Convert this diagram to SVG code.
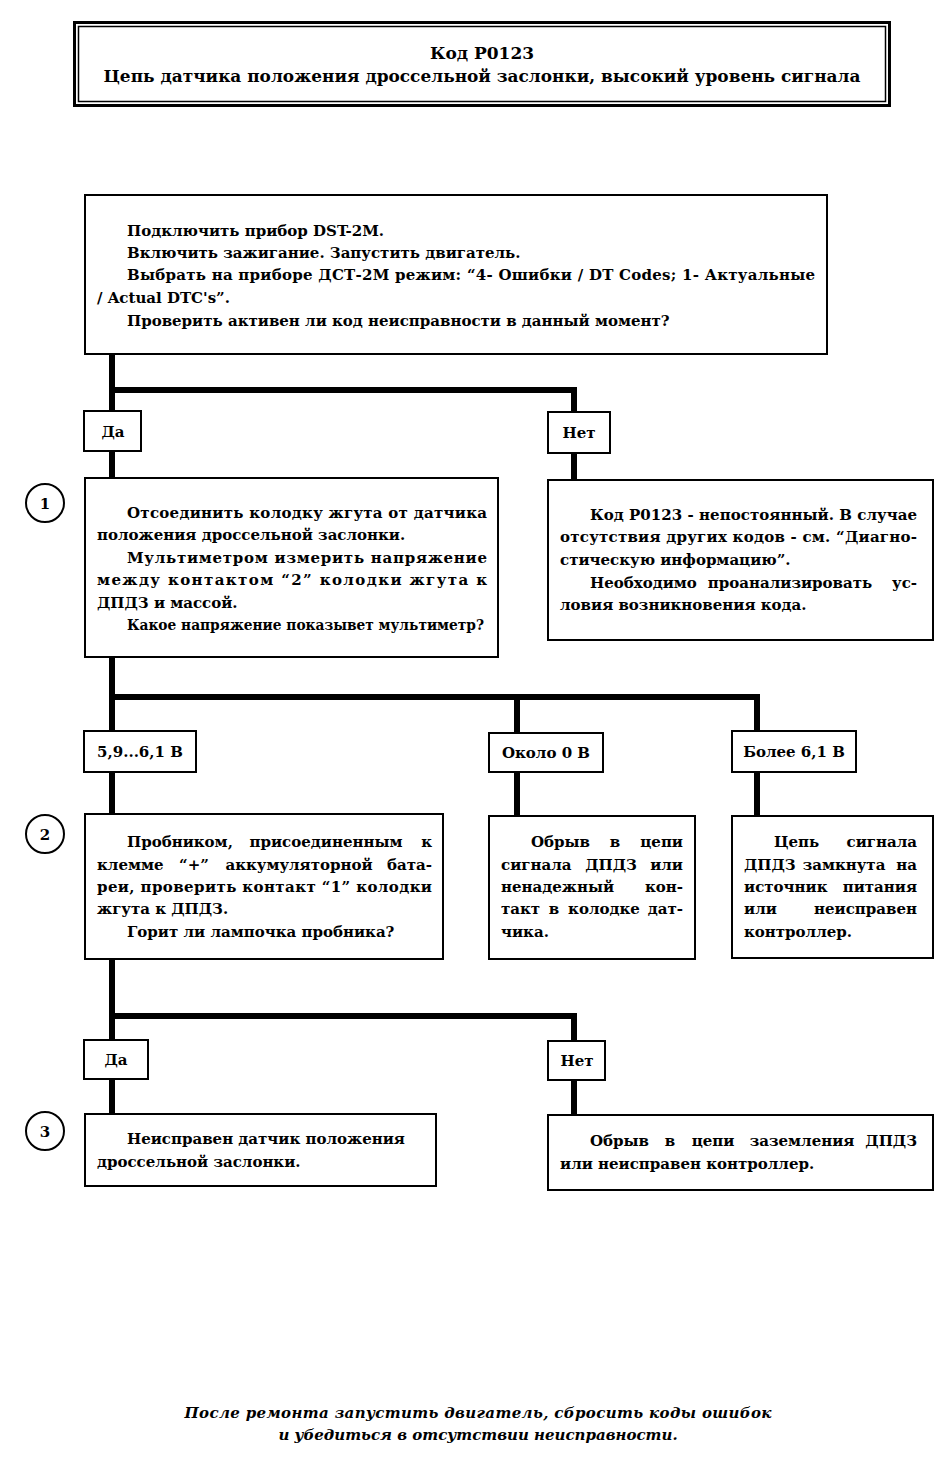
<svg xmlns="http://www.w3.org/2000/svg" width="951" height="1460" viewBox="0 0 951 1460">
<style>
.bx{fill:#fff;stroke:#000;stroke-width:2}
.lb{fill:#fff;stroke:#000;stroke-width:2}
.t{font-family:"DejaVu Serif","Liberation Serif",serif;font-weight:bold;font-size:15px;fill:#000}
.c{text-anchor:middle}
.m{text-anchor:middle}
.e{text-anchor:end}
.cn{stroke:#000;stroke-width:6;fill:none;stroke-linecap:square}
.ci{fill:#fff;stroke:#000;stroke-width:2}
.ft{font-family:"DejaVu Serif","Liberation Serif",serif;font-style:italic;font-weight:bold;font-size:15px;text-anchor:middle}
.tt{font-family:"DejaVu Serif","Liberation Serif",serif;font-weight:bold;font-size:17px;text-anchor:middle}
</style>
<rect width="951" height="1460" fill="#fff"/>
<g id="title">
<rect x="74.5" y="22.5" width="815" height="83" fill="#fff" stroke="#000" stroke-width="3"/>
<rect x="78.5" y="26.5" width="807" height="75" fill="none" stroke="#000" stroke-width="1.5"/>
<text class="tt" x="482" y="59">Код P0123</text>
<text class="tt" x="482" y="82" textLength="757" lengthAdjust="spacingAndGlyphs">Цепь датчика положения дроссельной заслонки, высокий уровень сигнала</text>
</g>
<g id="connectors">
<path class="cn" d="M112 354V478M112 390H574V480"/>
<path class="cn" d="M112 657V814M112 697H757V816M517 697V816"/>
<path class="cn" d="M112 959V1114M112 1016H574V1116"/>
</g>
<g id="start">
<rect class="bx" x="85" y="195" width="742" height="159"/>
<text class="t" x="127" y="236">Подключить прибор DST-2M.</text>
<text class="t" x="127" y="258">Включить зажигание. Запустить двигатель.</text>
<text class="t" x="127" y="280" textLength="688" lengthAdjust="spacing">Выбрать на приборе ДСТ-2М режим: “4- Ошибки / DT Codes; 1- Актуальные</text>
<text class="t" x="97" y="303">/ Actual DTC's”.</text>
<text class="t" x="127" y="326">Проверить активен ли код неисправности в данный момент?</text>
</g>
<g id="yes1">
<rect class="lb" x="84" y="411" width="57" height="40"/>
<text class="t c" x="113" y="437">Да</text>
</g>
<g id="no1">
<rect class="lb" x="548" y="412" width="62" height="41"/>
<text class="t c" x="579" y="438">Нет</text>
</g>
<g id="n1">
<circle class="ci" cx="45" cy="503" r="19"/>
<text class="t c" x="45" y="509">1</text>
</g>
<g id="step1">
<rect class="bx" x="85" y="478" width="413" height="179"/>
<text class="t" x="127" y="518" textLength="360" lengthAdjust="spacing">Отсоединить колодку жгута от датчика</text>
<text class="t" x="97" y="540">положения дроссельной заслонки.</text>
<text class="t" x="127" y="563" textLength="360" lengthAdjust="spacing">Мультиметром измерить напряжение</text>
<text class="t" x="97" y="585" textLength="390" lengthAdjust="spacing">между контактом “2” колодки жгута к</text>
<text class="t" x="97" y="608">ДПДЗ и массой.</text>
<text class="t" x="127" y="630" textLength="357" lengthAdjust="spacingAndGlyphs">Какое напряжение показывет мультиметр?</text>
</g>
<g id="intermittent">
<rect class="bx" x="548" y="480" width="385" height="160"/>
<text class="t" x="590" y="520" textLength="327" lengthAdjust="spacing">Код P0123 - непостоянный. В случае</text>
<text class="t" x="560" y="542" textLength="357" lengthAdjust="spacing">отсутствия других кодов - см. “Диагно-</text>
<text class="t" x="560" y="565">стическую информацию”.</text>
<text class="t" y="588"><tspan x="590">Необходимо</tspan><tspan class="m" x="790">проанализировать</tspan><tspan class="e" x="917">ус-</tspan></text>
<text class="t" x="560" y="610">ловия возникновения кода.</text>
</g>
<g id="v1">
<rect class="lb" x="84" y="731" width="112" height="41"/>
<text class="t c" x="140" y="757">5,9...6,1 В</text>
</g>
<g id="v2">
<rect class="lb" x="489" y="733" width="114" height="39"/>
<text class="t c" x="546" y="758">Около 0 В</text>
</g>
<g id="v3">
<rect class="lb" x="732" y="731" width="124" height="41"/>
<text class="t c" x="794" y="757">Более 6,1 В</text>
</g>
<g id="n2">
<circle class="ci" cx="45" cy="834" r="19"/>
<text class="t c" x="45" y="840">2</text>
</g>
<g id="step2">
<rect class="bx" x="85" y="814" width="358" height="145"/>
<text class="t" y="847"><tspan x="127">Пробником,</tspan><tspan class="m" x="326">присоединенным</tspan><tspan class="e" x="432">к</tspan></text>
<text class="t" y="870"><tspan x="97">клемме</tspan><tspan class="m" x="194">“+”</tspan><tspan class="m" x="299">аккумуляторной</tspan><tspan class="e" x="432">бата-</tspan></text>
<text class="t" x="97" y="892" textLength="335" lengthAdjust="spacing">реи, проверить контакт “1” колодки</text>
<text class="t" x="97" y="914">жгута к ДПДЗ.</text>
<text class="t" x="127" y="937">Горит ли лампочка пробника?</text>
</g>
<g id="open">
<rect class="bx" x="489" y="816" width="206" height="143"/>
<text class="t" y="847"><tspan x="531">Обрыв</tspan><tspan class="m" x="615">в</tspan><tspan class="e" x="683">цепи</tspan></text>
<text class="t" y="870"><tspan x="501">сигнала</tspan><tspan class="m" x="611">ДПДЗ</tspan><tspan class="e" x="683">или</tspan></text>
<text class="t" y="892"><tspan x="501">ненадежный</tspan><tspan class="e" x="683">кон-</tspan></text>
<text class="t" y="914"><tspan x="501">такт</tspan><tspan class="m" x="554">в</tspan><tspan class="m" x="604">колодке</tspan><tspan class="e" x="683">дат-</tspan></text>
<text class="t" x="501" y="937">чика.</text>
</g>
<g id="short">
<rect class="bx" x="732" y="816" width="201" height="142"/>
<text class="t" y="847"><tspan x="774">Цепь</tspan><tspan class="e" x="917">сигнала</tspan></text>
<text class="t" y="870"><tspan x="744">ДПДЗ</tspan><tspan class="m" x="844">замкнута</tspan><tspan class="e" x="917">на</tspan></text>
<text class="t" y="892"><tspan x="744">источник</tspan><tspan class="e" x="917">питания</tspan></text>
<text class="t" y="914"><tspan x="744">или</tspan><tspan class="e" x="917">неисправен</tspan></text>
<text class="t" x="744" y="937">контроллер.</text>
</g>
<g id="yes2">
<rect class="lb" x="84" y="1040" width="64" height="39"/>
<text class="t c" x="116" y="1065">Да</text>
</g>
<g id="no2">
<rect class="lb" x="548" y="1041" width="57" height="39"/>
<text class="t c" x="577" y="1066">Нет</text>
</g>
<g id="n3">
<circle class="ci" cx="45" cy="1131" r="19"/>
<text class="t c" x="45" y="1137">3</text>
</g>
<g id="step3">
<rect class="bx" x="85" y="1114" width="351" height="72"/>
<text class="t" x="127" y="1144">Неисправен датчик положения</text>
<text class="t" x="97" y="1167">дроссельной заслонки.</text>
</g>
<g id="ground">
<rect class="bx" x="548" y="1115" width="385" height="75"/>
<text class="t" y="1146"><tspan x="590">Обрыв</tspan><tspan class="m" x="670">в</tspan><tspan class="m" x="713">цепи</tspan><tspan class="m" x="802">заземления</tspan><tspan class="e" x="917">ДПДЗ</tspan></text>
<text class="t" x="560" y="1169">или неисправен контроллер.</text>
</g>
<g id="footer">
<text class="ft" x="478" y="1418" textLength="587" lengthAdjust="spacing">После ремонта запустить двигатель, сбросить коды ошибок</text>
<text class="ft" x="478" y="1440">и убедиться в отсутствии неисправности.</text>
</g>
</svg>
